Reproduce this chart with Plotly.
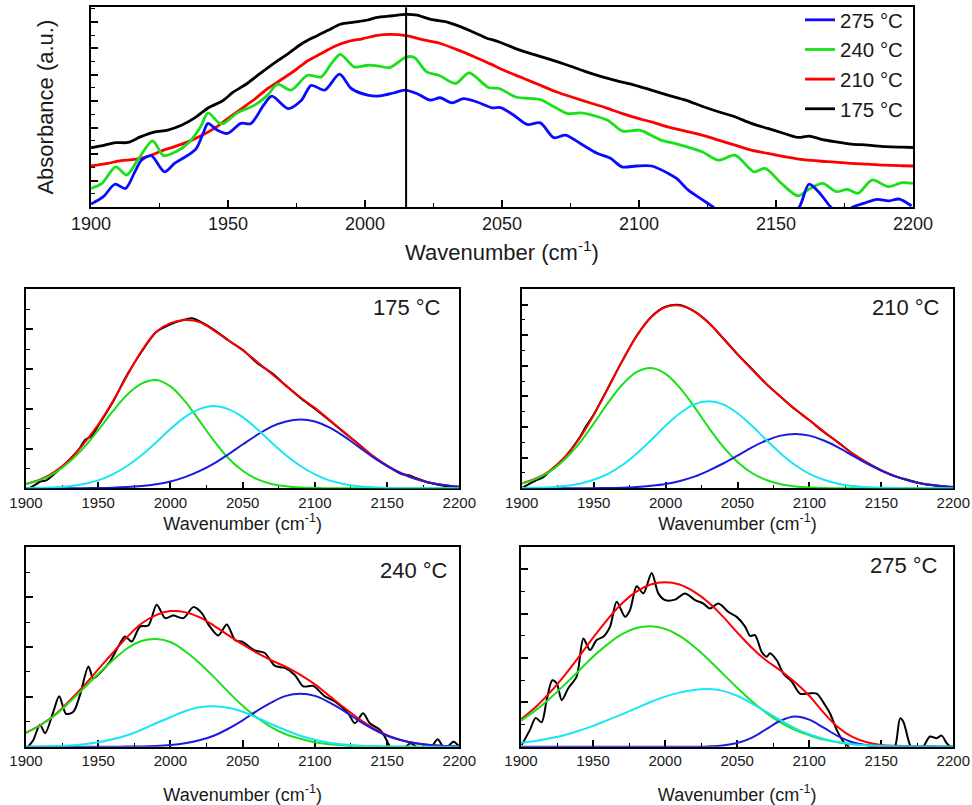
import plotly.graph_objects as go

# ---------------- DATA ----------------
# Top panel (raw spectra, arbitrary absorbance units)
TOP_175_X = [1900, 1905, 1909, 1913.5, 1918, 1923, 1928, 1933, 1938, 1943,
             1948, 1952, 1957, 1962, 1967, 1972, 1977, 1982, 1986.5, 1991,
             1996, 2001, 2004, 2010, 2015, 2019, 2024, 2030, 2035, 2040,
             2044, 2049, 2055, 2061.5, 2067.5, 2074, 2080, 2086, 2092, 2098,
             2104.5, 2110.5, 2117, 2123, 2129, 2135, 2141, 2147, 2153, 2158,
             2162, 2167, 2171.5, 2177.5, 2183.5, 2190, 2196, 2200]
TOP_175_Y = [2.24, 2.34, 2.43, 2.44, 2.65, 2.83, 2.91, 3.09, 3.38, 3.76,
             4.01, 4.35, 4.67, 5.07, 5.45, 5.80, 6.18, 6.45, 6.68, 6.91,
             6.99, 7.07, 7.16, 7.23, 7.28, 7.25, 7.09, 6.99, 6.81, 6.59,
             6.40, 6.24, 5.99, 5.77, 5.58, 5.36, 5.14, 4.94, 4.77, 4.62,
             4.42, 4.23, 4.04, 3.81, 3.60, 3.41, 3.16, 2.97, 2.78, 2.63,
             2.68, 2.55, 2.47, 2.38, 2.34, 2.28, 2.26, 2.25]

TOP_210_X = [1900, 1906, 1911, 1916, 1921, 1926, 1930.5, 1935.5, 1940, 1945,
             1950, 1955, 1960, 1964.5, 1969.5, 1974.5, 1979, 1984, 1989, 1994,
             1999, 2004, 2009, 2015, 2021, 2027, 2033.5, 2039.5, 2045.5, 2051.5,
             2058, 2064, 2070, 2076, 2082, 2088, 2094, 2100, 2104.5, 2110.5,
             2117, 2123, 2129, 2135, 2141, 2147, 2153, 2159, 2165.5, 2171.5,
             2177.5, 2183.5, 2190, 2196, 2200]
TOP_210_Y = [1.55, 1.65, 1.75, 1.80, 1.92, 2.13, 2.28, 2.47, 2.68, 2.97,
             3.35, 3.72, 4.10, 4.48, 4.82, 5.17, 5.52, 5.80, 6.08, 6.26,
             6.36, 6.48, 6.53, 6.48, 6.33, 6.20, 5.95, 5.70, 5.42, 5.13,
             4.86, 4.60, 4.35, 4.14, 3.94, 3.75, 3.53, 3.34, 3.22, 3.03,
             2.87, 2.72, 2.53, 2.34, 2.15, 2.03, 1.90, 1.80, 1.74, 1.70,
             1.65, 1.62, 1.58, 1.56, 1.55]

TOP_240_X = [1900, 1904, 1909, 1913, 1917, 1922.5, 1926.5, 1931, 1936, 1940,
             1942.7, 1946.7, 1948.5, 1953.4, 1959.7, 1964.5, 1968, 1973, 1979, 1984,
             1987.7, 1991, 1996, 2001, 2005, 2009, 2015, 2018, 2022.5, 2027,
             2033, 2038, 2045, 2049, 2055, 2064, 2069, 2074, 2079, 2088.5,
             2094, 2100, 2102, 2108, 2114, 2123, 2129, 2135, 2142, 2146,
             2152, 2158, 2162, 2167, 2172, 2176, 2180, 2185, 2191, 2196,
             2200]
TOP_240_Y = [0.70, 0.89, 1.52, 1.21, 1.77, 2.50, 1.94, 2.09, 2.47, 3.03,
             3.56, 3.18, 3.16, 3.56, 3.85, 4.23, 4.64, 4.42, 4.98, 4.92,
             5.42, 5.77, 5.30, 5.36, 5.33, 5.27, 5.67, 5.65, 5.11, 4.98,
             4.67, 5.07, 4.52, 4.48, 4.16, 4.06, 3.79, 3.53, 3.56, 3.28,
             2.87, 2.91, 2.84, 2.53, 2.38, 2.09, 1.77, 1.96, 1.33, 1.46,
             0.89, 0.42, 0.67, 0.89, 0.58, 0.67, 0.52, 1.02, 0.77, 0.92,
             0.89]

TOP_275_X = [1900, 1904.5, 1908.7, 1912.6, 1916, 1918.4, 1922, 1926.8, 1930.5, 1935.4,
             1938.4, 1940.9, 1942.7, 1946, 1949.8, 1954.7, 1958.4, 1963, 1966, 1971.9,
             1976.8, 1980.4, 1985.3, 1990.7, 1995, 2001, 2005.5, 2010.4, 2014.6, 2018.9,
             2023.8, 2027.4, 2031.7, 2036, 2040.9, 2046.4, 2049.5, 2054.3, 2059.2, 2064,
             2068.9, 2073.2, 2078.6, 2084.7, 2089.6, 2093.8, 2099, 2104.6, 2110.7, 2113.7,
             2118, 2122.9, 2127, 2135, 2145, 2153, 2158.5, 2162, 2165.5, 2170,
             2174, 2178, 2182, 2187, 2191, 2195, 2199.5]
TOP_275_Y = [0.11, 0.39, 0.86, 0.70, 1.33, 1.77, 1.94, 1.33, 1.65, 1.96,
             2.21, 2.78, 3.16, 2.91, 2.78, 3.16, 3.16, 3.85, 4.19, 3.72,
             4.04, 4.60, 4.42, 5.02, 4.48, 4.23, 4.20, 4.31, 4.42, 4.29,
             4.04, 4.13, 3.94, 4.10, 3.97, 3.75, 3.76, 3.47, 3.12, 3.18,
             2.62, 2.72, 2.40, 2.03, 1.84, 1.52, 1.55, 1.55, 1.27, 1.08,
             0.64, 0.29, 0.0, -0.6, -0.9, -0.5, 0.0, 0.86, 0.58, 0.0,
             -0.3, 0.0, 0.14, 0.29, 0.23, 0.30, 0.04]

MARKER_WN = 2015  # vertical reference line in the top panel

# Fitted panels: common wavenumber grid for fit components
WN_FIT = [1900, 1910, 1920, 1930, 1940, 1950, 1960, 1970, 1980, 1990,
          2000, 2010, 2020, 2030, 2040, 2050, 2060, 2070, 2080, 2090,
          2100, 2110, 2120, 2130, 2140, 2150, 2160, 2170, 2180, 2190, 2200]

# 175 °C
D175_X = [1902, 1906, 1910, 1914, 1920, 1930, 1937, 1941, 1945, 1950,
          1960, 1970, 1980, 1990, 2000, 2010, 2015, 2020, 2030, 2040,
          2050, 2060, 2070, 2080, 2090, 2100, 2110, 2120, 2130, 2140,
          2150, 2160, 2165, 2170, 2180, 2190, 2200]
D175_Y = [0.0, 0.08, 0.17, 0.20, 0.37, 0.72, 1.00, 1.22, 1.30, 1.57,
          2.16, 2.85, 3.43, 3.92, 4.12, 4.24, 4.27, 4.20, 3.99, 3.72,
          3.48, 3.15, 2.90, 2.58, 2.27, 2.00, 1.71, 1.41, 1.12, 0.80,
          0.57, 0.36, 0.33, 0.26, 0.13, 0.06, 0.03]
F175_SUM = [0.11, 0.22, 0.42, 0.71, 1.12, 1.60, 2.18, 2.83, 3.45, 3.93,
            4.15, 4.23, 4.18, 3.97, 3.72, 3.47, 3.18, 2.88, 2.58, 2.28,
            2.02, 1.72, 1.42, 1.11, 0.82, 0.57, 0.38, 0.24, 0.14, 0.08, 0.04]
F175_P1 = [0.11, 0.21, 0.39, 0.66, 1.02, 1.46, 1.93, 2.35, 2.63, 2.72,
           2.56, 2.19, 1.70, 1.20, 0.76, 0.44, 0.23, 0.11, 0.05, 0.02,
           0.01, 0, 0, 0, 0, 0, 0, 0, 0, 0, 0]
F175_P2 = [0.00, 0.01, 0.025, 0.054, 0.11, 0.20, 0.35, 0.56, 0.83, 1.15,
           1.49, 1.79, 1.99, 2.07, 1.99, 1.79, 1.49, 1.15, 0.83, 0.56,
           0.35, 0.20, 0.11, 0.054, 0.025, 0.01, 0, 0, 0, 0, 0]
F175_P3 = [0, 0, 0, 0.002, 0.004, 0.007, 0.014, 0.03, 0.056, 0.10,
           0.17, 0.28, 0.43, 0.62, 0.85, 1.10, 1.34, 1.55, 1.68, 1.73,
           1.68, 1.53, 1.31, 1.05, 0.79, 0.56, 0.37, 0.23, 0.14, 0.08, 0.04]

# 210 °C
D210_X = [1900, 1905, 1910, 1915, 1920, 1930, 1940, 1945, 1950, 1960,
          1970, 1980, 1990, 2000, 2010, 2020, 2030, 2040, 2050, 2060,
          2070, 2080, 2090, 2100, 2110, 2120, 2130, 2140, 2150, 2160,
          2170, 2180, 2185, 2190, 2200]
D210_Y = [0.0, 0.14, 0.26, 0.36, 0.58, 1.02, 1.64, 2.05, 2.40, 3.28,
          4.17, 4.99, 5.60, 5.93, 5.99, 5.78, 5.41, 4.90, 4.38, 3.90,
          3.41, 2.99, 2.58, 2.22, 1.84, 1.50, 1.13, 0.84, 0.58, 0.39,
          0.26, 0.13, 0.11, 0.06, 0.02]
F210_SUM = [0.16, 0.32, 0.59, 1.02, 1.62, 2.39, 3.27, 4.17, 4.98, 5.59,
            5.92, 5.97, 5.78, 5.40, 4.91, 4.38, 3.88, 3.41, 2.99, 2.59,
            2.22, 1.85, 1.49, 1.14, 0.84, 0.59, 0.39, 0.24, 0.14, 0.08, 0.04]
F210_P1 = [0.155, 0.31, 0.56, 0.95, 1.47, 2.11, 2.79, 3.39, 3.80, 3.93,
           3.74, 3.28, 2.66, 1.98, 1.36, 0.86, 0.50, 0.27, 0.13, 0.06,
           0.025, 0.01, 0, 0, 0, 0, 0, 0, 0, 0, 0]
F210_P2 = [0.006, 0.014, 0.034, 0.074, 0.15, 0.28, 0.47, 0.76, 1.14, 1.58,
           2.04, 2.45, 2.74, 2.84, 2.74, 2.45, 2.04, 1.58, 1.14, 0.76,
           0.47, 0.28, 0.15, 0.074, 0.034, 0.014, 0.006, 0, 0, 0, 0]
F210_P3 = [0, 0, 0, 0, 0.002, 0.004, 0.009, 0.02, 0.04, 0.08,
           0.14, 0.24, 0.38, 0.58, 0.81, 1.07, 1.34, 1.56, 1.72, 1.77,
           1.72, 1.56, 1.34, 1.07, 0.81, 0.58, 0.38, 0.24, 0.14, 0.08, 0.04]

# 240 °C
D240_X = [1900, 1901.6, 1905, 1909.7, 1913.2, 1918.9, 1923, 1927.7, 1932.8, 1937.4,
          1943.2, 1946.6, 1951.2, 1958.2, 1963.9, 1968.6, 1973.2, 1978.9, 1984.7, 1990.5,
          1996.3, 2002, 2009, 2015.9, 2021.7, 2026.3, 2033.2, 2039, 2045, 2049.3,
          2058.6, 2065.3, 2072.4, 2079.2, 2086.1, 2092, 2098.8, 2106.9, 2113.8, 2123.1,
          2127.7, 2133.4, 2138, 2145, 2148.4, 2151.9, 2156, 2160, 2163, 2166.5,
          2170, 2175, 2181, 2185, 2189, 2192.5, 2196, 2200]
D240_Y = [-0.1, 0.0, 0.13, 0.44, 0.27, 0.70, 1.01, 0.66, 0.70, 1.04,
          1.61, 1.37, 1.48, 1.71, 2.01, 2.21, 2.11, 2.41, 2.43, 2.85,
          2.58, 2.63, 2.58, 2.80, 2.68, 2.45, 2.23, 2.45, 2.13, 2.11,
          1.93, 1.88, 1.62, 1.58, 1.44, 1.21, 1.22, 1.01, 0.91, 0.67,
          0.47, 0.67, 0.47, 0.34, 0.20, 0.0, -0.2, -0.1, 0.0, 0.07,
          0.0, -0.15, 0.0, 0.15, 0.0, 0.02, 0.10, 0.0]
F240_SUM = [0.28, 0.435, 0.64, 0.92, 1.22, 1.55, 1.88, 2.20, 2.47, 2.64,
            2.72, 2.70, 2.60, 2.43, 2.24, 2.05, 1.88, 1.73, 1.60, 1.44,
            1.25, 1.02, 0.79, 0.57, 0.38, 0.23, 0.13, 0.067, 0.032, 0.014, 0.005]
F240_P1 = [0.28, 0.43, 0.63, 0.89, 1.17, 1.46, 1.73, 1.97, 2.12, 2.16,
           2.10, 1.92, 1.68, 1.40, 1.10, 0.82, 0.58, 0.39, 0.25, 0.16,
           0.09, 0.05, 0.026, 0.013, 0.006, 0, 0, 0, 0, 0, 0]
F240_P2 = [0.002, 0.005, 0.012, 0.025, 0.05, 0.09, 0.15, 0.23, 0.34, 0.47,
           0.59, 0.71, 0.79, 0.81, 0.78, 0.70, 0.58, 0.45, 0.33, 0.22,
           0.14, 0.08, 0.045, 0.024, 0.012, 0.005, 0.002, 0, 0, 0, 0]
F240_P3 = [0, 0, 0, 0, 0, 0, 0, 0.002, 0.005, 0.014,
           0.032, 0.067, 0.13, 0.22, 0.36, 0.53, 0.72, 0.89, 1.02, 1.06,
           1.02, 0.89, 0.72, 0.53, 0.36, 0.22, 0.13, 0.067, 0.032, 0.014, 0.005]

# 275 °C
D275_X = [1900.5, 1906.2, 1910.2, 1914.3, 1917.8, 1921.7, 1924.8, 1928.3, 1932.8, 1938.6,
          1943.3, 1947.9, 1952.5, 1957.1, 1961.8, 1966.4, 1972.2, 1975.6, 1980.3, 1984.9,
          1990.7, 1995.3, 1999.9, 2006.9, 2013.8, 2020.8, 2026.6, 2031, 2037, 2044,
          2049.7, 2055.5, 2059, 2062.4, 2067, 2070.5, 2072.8, 2077.5, 2082.1, 2087.9,
          2093.6, 2099.4, 2105.2, 2111, 2114.5, 2119.1, 2123.8, 2127.2, 2135, 2145,
          2153, 2159.6, 2163.1, 2165.4, 2170, 2174.5, 2179.2, 2183.8, 2188.4, 2191.9,
          2195.4, 2198, 2200]
D275_Y = [0.04, 0.38, 0.65, 0.55, 1.05, 1.50, 1.43, 1.05, 1.32, 1.58,
          2.44, 2.18, 2.41, 2.48, 2.71, 3.27, 2.93, 3.08, 3.62, 3.46,
          3.92, 3.46, 3.31, 3.32, 3.46, 3.31, 3.23, 3.12, 3.23, 3.04,
          2.93, 2.71, 2.50, 2.52, 2.14, 2.03, 2.11, 1.95, 1.65, 1.47,
          1.20, 1.20, 1.20, 0.94, 0.75, 0.38, 0.11, 0.0, -0.5, -0.6,
          -0.3, 0.0, 0.64, 0.56, 0.04, -0.15, 0.0, 0.23, 0.19, 0.25,
          0.08, 0.0, -0.05]
F275_SUM = [0.62, 0.89, 1.22, 1.60, 2.02, 2.46, 2.87, 3.23, 3.50, 3.66,
            3.71, 3.66, 3.50, 3.26, 2.94, 2.58, 2.24, 1.95, 1.72, 1.46,
            1.15, 0.77, 0.44, 0.22, 0.10, 0.04, 0.02, 0.008, 0.004, 0.001, 0]
F275_P1 = [0.59, 0.82, 1.09, 1.39, 1.71, 2.03, 2.31, 2.54, 2.68, 2.72,
           2.66, 2.50, 2.26, 1.97, 1.65, 1.33, 1.03, 0.77, 0.55, 0.38,
           0.26, 0.16, 0.10, 0.06, 0.034, 0.019, 0.010, 0.005, 0.003, 0.001, 0]
F275_P2 = [0.09, 0.13, 0.19, 0.26, 0.36, 0.47, 0.60, 0.73, 0.87, 1.01,
           1.13, 1.22, 1.28, 1.30, 1.26, 1.15, 0.98, 0.79, 0.60, 0.42,
           0.28, 0.18, 0.10, 0.057, 0.03, 0.014, 0.007, 0.003, 0.001, 0, 0]
F275_P3 = [0, 0, 0, 0, 0, 0, 0, 0, 0, 0,
           0, 0, 0, 0.007, 0.027, 0.083, 0.20, 0.39, 0.585, 0.68,
           0.61, 0.43, 0.24, 0.10, 0.034, 0.009, 0.002, 0, 0, 0, 0]

# ---------------- STYLE ----------------
W, H = 972, 805
FONT = "Arial, Liberation Sans, sans-serif"
TXT = "#1a1a1a"
C_BLACK, C_RED, C_GREEN, C_BLUE = "#000000", "#ff0000", "#19e019", "#0a0aff"
C_CYAN, C_DBLUE = "#19e6f5", "#1a1ae0"


def px_dom_x(a, b):
    return [a / W, b / W]


def px_dom_y(top, bottom):
    return [1 - bottom / H, 1 - top / H]


fig = go.Figure()

# top panel traces (legend listed reversed)
top_series = [("175 °C", TOP_175_X, TOP_175_Y, C_BLACK),
              ("210 °C", TOP_210_X, TOP_210_Y, C_RED),
              ("240 °C", TOP_240_X, TOP_240_Y, C_GREEN),
              ("275 °C", TOP_275_X, TOP_275_Y, C_BLUE)]
for name, xs, ys, col in top_series:
    fig.add_trace(go.Scatter(x=xs, y=ys, mode="lines", name=name,
                             line=dict(color=col, width=2.8, shape="spline", smoothing=0.8),
                             xaxis="x", yaxis="y", showlegend=True))

panels = [
    ("2", "175 °C", D175_X, D175_Y, F175_SUM, F175_P1, F175_P2, F175_P3),
    ("3", "210 °C", D210_X, D210_Y, F210_SUM, F210_P1, F210_P2, F210_P3),
    ("4", "240 °C", D240_X, D240_Y, F240_SUM, F240_P1, F240_P2, F240_P3),
    ("5", "275 °C", D275_X, D275_Y, F275_SUM, F275_P1, F275_P2, F275_P3),
]
for ax, label, dx, dy, fs, p1, p2, p3 in panels:
    common = dict(xaxis="x" + ax, yaxis="y" + ax, showlegend=False, mode="lines")
    fig.add_trace(go.Scatter(x=dx, y=dy, line=dict(color=C_BLACK, width=2, shape="spline", smoothing=0.8), **common))
    fig.add_trace(go.Scatter(x=WN_FIT, y=fs, line=dict(color=C_RED, width=2, shape="spline"), **common))
    fig.add_trace(go.Scatter(x=WN_FIT, y=p1, line=dict(color=C_GREEN, width=2, shape="spline"), **common))
    fig.add_trace(go.Scatter(x=WN_FIT, y=p3, line=dict(color=C_DBLUE, width=2, shape="spline"), **common))
    fig.add_trace(go.Scatter(x=WN_FIT, y=p2, line=dict(color=C_CYAN, width=2, shape="spline"), **common))


def xaxis(domain, anchor, tsize, title_size, standoff):
    return dict(domain=domain, anchor=anchor, range=[1900, 2200], tick0=1900, dtick=50,
                ticks="inside", ticklen=7, tickwidth=1.5, tickcolor="black",
                showline=True, linecolor="black", linewidth=1.5, mirror=True,
                showgrid=False, zeroline=False, layer="below traces", automargin=False,
                tickfont=dict(family=FONT, size=tsize, color=TXT),
                minor=dict(dtick=25, ticks="inside", ticklen=4, tickwidth=1.2,
                           tickcolor="black", showgrid=False),
                title=dict(text="Wavenumber (cm<sup>-1</sup>)",
                           font=dict(family=FONT, size=title_size, color=TXT),
                           standoff=standoff))


def yaxis(domain, anchor, ymax):
    return dict(domain=domain, anchor=anchor, range=[0, ymax], tick0=0, dtick=1,
                ticks="inside", ticklen=7, tickwidth=1.5, tickcolor="black",
                showticklabels=False, showline=True, linecolor="black", linewidth=1.5,
                mirror=True, showgrid=False, zeroline=False, layer="below traces",
                automargin=False,
                minor=dict(dtick=0.5, ticks="inside", ticklen=4, tickwidth=1.2,
                           tickcolor="black", showgrid=False))


top_y = yaxis(px_dom_y(7.3, 207), "x", 7.55)
top_y["title"] = dict(text="Absorbance (a.u.)", font=dict(family=FONT, size=22, color=TXT), standoff=30)

fig.update_layout(
    width=W, height=H, margin=dict(l=0, r=0, t=0, b=0, autoexpand=False),
    paper_bgcolor="white", plot_bgcolor="white",
    font=dict(family=FONT, color=TXT),
    xaxis=xaxis(px_dom_x(91, 913), "y", 18, 22, 11),
    yaxis=top_y,
    xaxis2=xaxis(px_dom_x(26, 459.3), "y2", 15, 18, 2),
    yaxis2=yaxis(px_dom_y(289.3, 488.3), "x2", 5.0),
    xaxis3=xaxis(px_dom_x(521.7, 953.3), "y3", 15, 18, 2),
    yaxis3=yaxis(px_dom_y(289.3, 488.3), "x3", 6.5),
    xaxis4=xaxis(px_dom_x(26, 459.3), "y4", 15, 18, 20),
    yaxis4=yaxis(px_dom_y(547.3, 746.7), "x4", 4.0),
    xaxis5=xaxis(px_dom_x(521, 953.3), "y5", 15, 18, 20),
    yaxis5=yaxis(px_dom_y(547.3, 746.7), "x5", 4.5),
    legend=dict(x=800 / W, xanchor="left", y=1.0, yanchor="top",
                traceorder="reversed", bgcolor="rgba(0,0,0,0)",
                font=dict(family=FONT, size=20.5, color=TXT), itemwidth=30,
                tracegroupgap=0),
    showlegend=True,
)

fig.add_shape(type="line", xref="x", yref="y domain", x0=MARKER_WN, x1=MARKER_WN,
              y0=0, y1=1, line=dict(color="black", width=2))

ann_pos = {"2": (0.963, 0.911), "3": (0.973, 0.911), "4": (0.978, 0.886), "5": (0.969, 0.911)}
for ax, label, *_ in panels:
    xp, yp = ann_pos[ax]
    fig.add_annotation(text=label, xref="x%s domain" % ax, yref="y%s domain" % ax,
                       x=xp, y=yp, xanchor="right", yanchor="middle", showarrow=False,
                       font=dict(family=FONT, size=22, color=TXT))

fig.write_html("out.html")
